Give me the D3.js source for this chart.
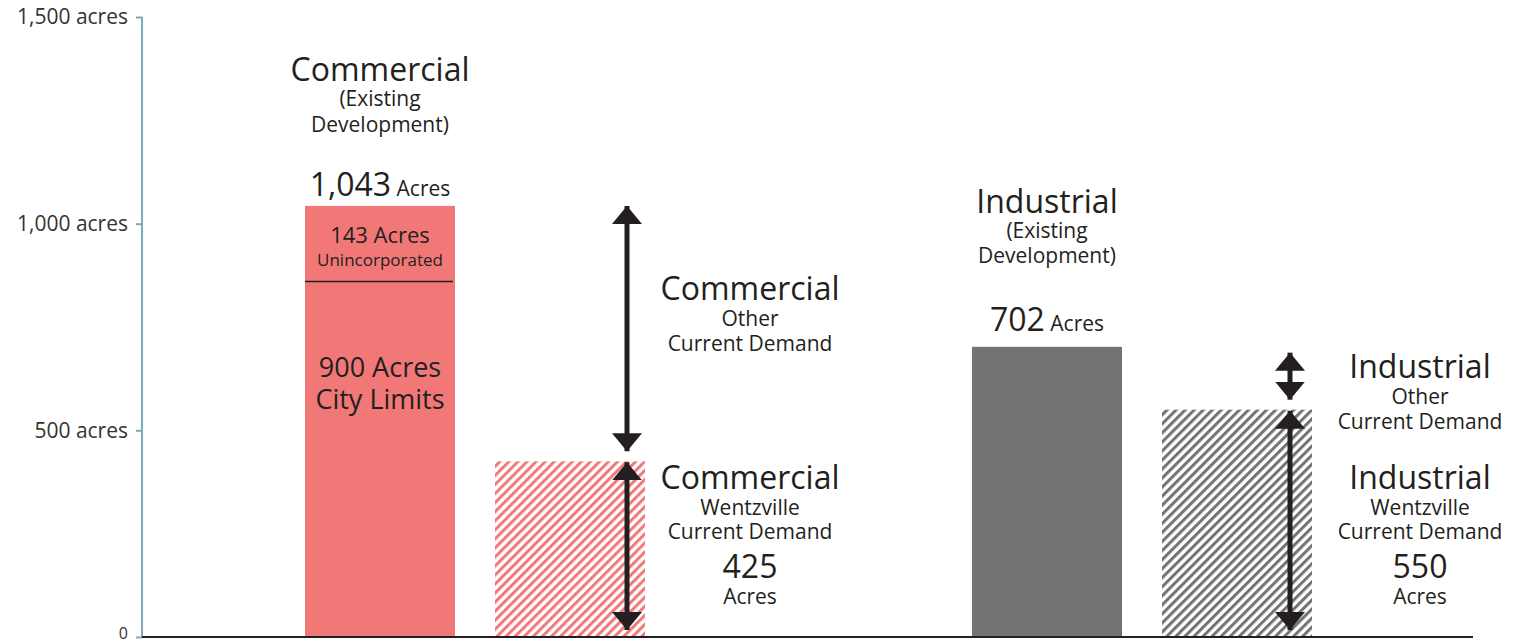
<!DOCTYPE html>
<html>
<head>
<meta charset="utf-8">
<script src="https://cdn.jsdelivr.net/npm/d3@7"></script>
<style>
  body { margin: 0; background: #fff; }
  svg { font-family: "Open Sans", sans-serif; }
</style>
</head>
<body>
<svg id="chart" width="1524" height="644"></svg>
<script>
// data
var groups = ["Commercial", "Industrial"];
var existingAcres = [1043, 702];
var demandAcres = [425, 550];
var unincorporatedAcres = 143;
var cityLimitAcres = 900;
var dividerAcres = 860;      // where the split line sits in the picture
var otherDemandTop = [1043, 688];
var yTicks = [0, 500, 1000, 1500];
var groupColors = ["#f27878", "#737373"];

var svg = d3.select("svg#chart");

var yScale = d3.scaleLinear().domain([0, 1500]).range([637, 17]);
var xGroup = d3.scaleLinear().domain([0, 1]).range([305, 972]);
var barW = 150, hatchOff = 190;

// hatch patterns
var defs = svg.append("defs");
groups.forEach(function(g, i) {
  var p = defs.append("pattern")
    .attr("id", "hatch" + i)
    .attr("patternUnits", "userSpaceOnUse")
    .attr("width", 6.4).attr("height", 6.4)
    .attr("patternTransform", "rotate(45)");
  p.append("rect").attr("width", 6.4).attr("height", 6.4).attr("fill", "#fff");
  p.append("rect").attr("x", 0).attr("width", 3).attr("height", 6.4).attr("fill", groupColors[i]);
});

// arrow heads (18 long, 30 wide)
defs.append("marker").attr("id", "ah")
  .attr("viewBox", "0 0 18 30").attr("refX", 18).attr("refY", 15)
  .attr("markerUnits", "userSpaceOnUse")
  .attr("markerWidth", 18).attr("markerHeight", 30)
  .attr("orient", "auto-start-reverse")
  .append("path").attr("d", "M0,0 L18,15 L0,30 Z").attr("fill", "#231f20");

// axes
var axisLeft = d3.axisLeft(yScale).tickValues(yTicks).tickSize(6)
  .tickFormat(function(d) { return d == 0 ? "0" : d3.format(",")(d) + " acres"; });
var gy = svg.append("g").attr("class", "axis axis--y")
  .attr("transform", "translate(142,0)")
  .call(axisLeft);
gy.select("path.domain").attr("d", "M0," + yScale(1500) + "V" + yScale(0)).attr("stroke", "#7fa9c0").attr("stroke-width", 2);
gy.selectAll(".tick line").attr("stroke", "#7fa9c0").attr("stroke-width", 2);
gy.selectAll(".tick text").attr("x", -14).attr("fill", "#333")
  .attr("dy", function(d) { return d == 0 ? "0.1em" : "0.32em"; })
  .style("font-size", function(d) { return d == 0 ? "16px" : "21px"; })
  .style("font-family", "'Open Sans', sans-serif");

// bars
var gBars = svg.append("g");
gBars.selectAll("rect.existing").data(existingAcres).enter().append("rect")
  .attr("class", "existing")
  .attr("x", function(d, i) { return xGroup(i); })
  .attr("y", function(d) { return yScale(d); })
  .attr("width", barW)
  .attr("height", function(d) { return yScale(0) - yScale(d); })
  .attr("fill", function(d, i) { return groupColors[i]; });

gBars.selectAll("rect.demand").data(demandAcres).enter().append("rect")
  .attr("class", "demand")
  .attr("x", function(d, i) { return xGroup(i) + hatchOff; })
  .attr("y", function(d) { return yScale(d); })
  .attr("width", barW)
  .attr("height", function(d) { return yScale(0) - yScale(d); })
  .attr("fill", function(d, i) { return "url(#hatch" + i + ")"; });

// divider in commercial bar
gBars.append("line")
  .attr("x1", xGroup(0)).attr("x2", xGroup(0) + barW - 2)
  .attr("y1", yScale(dividerAcres)).attr("y2", yScale(dividerAcres))
  .attr("stroke", "#231f20").attr("stroke-width", 1.5);

// baseline
svg.append("line").attr("x1", 142).attr("x2", 1473)
  .attr("y1", yScale(0)).attr("y2", yScale(0))
  .attr("stroke", "#231f20").attr("stroke-width", 2);

// arrows
var arrowX = [627, 1290];
var gArr = svg.append("g");
groups.forEach(function(g, i) {
  // other demand arrow
  gArr.append("line")
    .attr("x1", arrowX[i]).attr("x2", arrowX[i])
    .attr("y1", yScale(otherDemandTop[i])).attr("y2", yScale(demandAcres[i]) - 10)
    .attr("stroke", "#231f20").attr("stroke-width", 5)
    .attr("marker-start", "url(#ah)").attr("marker-end", "url(#ah)");
  // wentzville demand arrow
  gArr.append("line")
    .attr("x1", arrowX[i]).attr("x2", arrowX[i])
    .attr("y1", yScale(demandAcres[i]) + 1).attr("y2", yScale(0) - 7)
    .attr("stroke", "#231f20").attr("stroke-width", 5)
    .attr("marker-start", "url(#ah)").attr("marker-end", "url(#ah)");
});

// text helpers
var txt = svg.append("g").attr("fill", "#231f20").attr("text-anchor", "middle");
function label(x, y, s, size) {
  return txt.append("text").attr("x", x).attr("y", y).style("font-size", size + "px").text(s);
}
function valueLabel(x, y, num, size1, size2) {
  var t = txt.append("text").attr("x", x).attr("y", y);
  t.append("tspan").style("font-size", size1 + "px").text(num);
  t.append("tspan").style("font-size", size2 + "px").text(" Acres");
}

// commercial existing
var cx0 = xGroup(0) + barW / 2;
label(cx0, 81, groups[0], 32);
label(cx0, 106, "(Existing", 21);
label(cx0, 132, "Development)", 21);
valueLabel(cx0, 196, d3.format(",")(existingAcres[0]), 32, 21);
label(cx0, 243, unincorporatedAcres + " Acres", 22);
label(cx0, 266, "Unincorporated", 17);
label(cx0, 377, cityLimitAcres + " Acres", 27);
label(cx0, 409, "City Limits", 27);

// industrial existing
var cx1 = xGroup(1) + barW / 2;
label(cx1, 213, groups[1], 32);
label(cx1, 238, "(Existing", 21);
label(cx1, 263, "Development)", 21);
valueLabel(cx1, 331, existingAcres[1], 32, 21);

// demand labels
var labX = [750, 1420];
var otherY = [300, 378];
groups.forEach(function(g, i) {
  label(labX[i], otherY[i], g, 32);
  label(labX[i], otherY[i] + 26, "Other", 21);
  label(labX[i], otherY[i] + 51, "Current Demand", 21);
  label(labX[i], 489, g, 32);
  label(labX[i], 515, "Wentzville", 21);
  label(labX[i], 539, "Current Demand", 21);
  label(labX[i], 578, demandAcres[i], 32);
  label(labX[i], 604, "Acres", 21);
});
</script>
</body>
</html>
